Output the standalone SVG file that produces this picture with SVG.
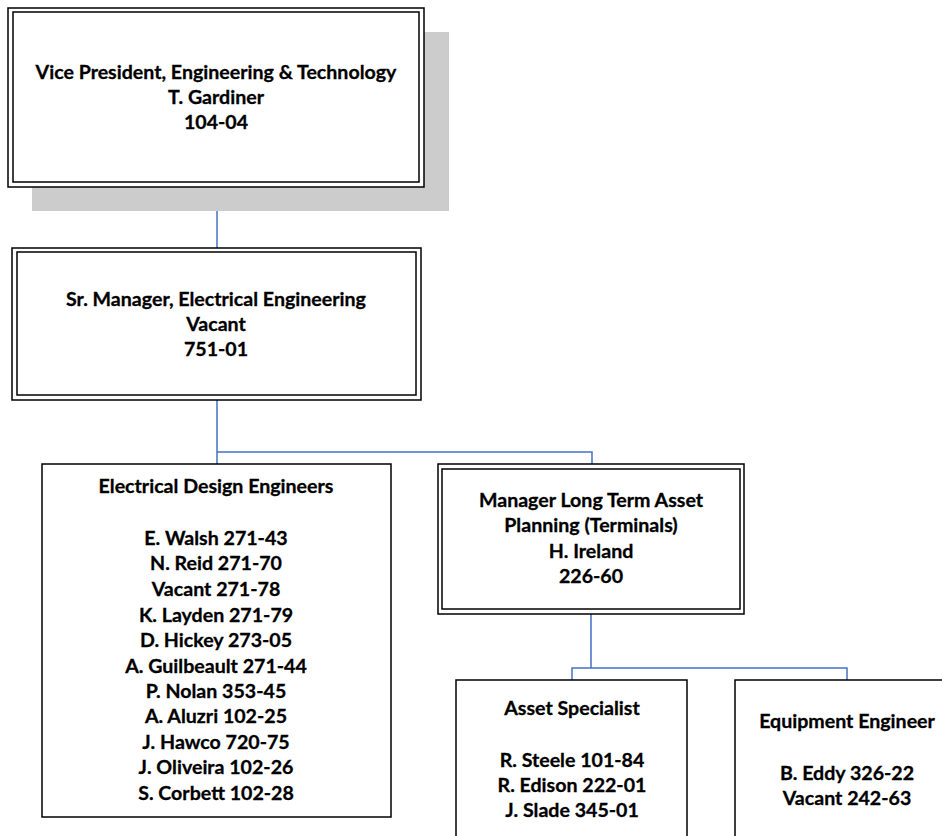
<svg xmlns="http://www.w3.org/2000/svg" width="942" height="836" viewBox="0 0 942 836">
<style>
.b{fill:#fff;stroke:#000;stroke-width:1.5}
.i{fill:none;stroke:#000;stroke-width:1.5}
.t{font-family:Lato,"Liberation Sans",sans-serif;font-weight:bold;font-size:19.6px;fill:#000;stroke:#000;stroke-width:0.3;text-anchor:middle}
.c{fill:none;stroke:#4472C4;stroke-width:1.5}
</style>
<rect width="942" height="836" fill="#fff"/>
<g id="connectors">
<path class="c" d="M217 187V249"/>
<path class="c" d="M217 400V452H592V464M217 452V464"/>
<path class="c" d="M591 614V668M572 680V668H847V680"/>
</g>
<g id="vp">
<rect x="32" y="32" width="417" height="179" fill="#cccccc"/>
<rect class="b" x="8" y="8" width="416" height="179"/>
<rect class="i" x="13" y="12" width="406" height="170"/>
<text class="t" x="216" y="79">Vice President, Engineering &amp; Technology</text>
<text class="t" x="216" y="104">T. Gardiner</text>
<text class="t" x="216" y="129">104-04</text>
</g>
<g id="srmgr">
<rect class="b" x="12" y="248" width="409" height="152"/>
<rect class="i" x="17" y="252" width="399" height="143"/>
<text class="t" x="216" y="306">Sr. Manager, Electrical Engineering</text>
<text class="t" x="216" y="331">Vacant</text>
<text class="t" x="216" y="356">751-01</text>
</g>
<g id="ede">
<rect class="b" x="42" y="464" width="349" height="353"/>
<text class="t" x="216" y="493">Electrical Design Engineers</text>
<text class="t" x="216" y="545">E. Walsh 271-43</text>
<text class="t" x="216" y="570">N. Reid 271-70</text>
<text class="t" x="216" y="596">Vacant 271-78</text>
<text class="t" x="216" y="622">K. Layden 271-79</text>
<text class="t" x="216" y="647">D. Hickey 273-05</text>
<text class="t" x="216" y="673">A. Guilbeault 271-44</text>
<text class="t" x="216" y="698">P. Nolan 353-45</text>
<text class="t" x="216" y="723">A. Aluzri 102-25</text>
<text class="t" x="216" y="749">J. Hawco 720-75</text>
<text class="t" x="216" y="774">J. Oliveira 102-26</text>
<text class="t" x="216" y="800">S. Corbett 102-28</text>
</g>
<g id="ltap">
<rect class="b" x="438" y="464" width="306" height="150"/>
<rect class="i" x="442" y="469" width="298" height="140"/>
<text class="t" x="591" y="507">Manager Long Term Asset</text>
<text class="t" x="591" y="532">Planning (Terminals)</text>
<text class="t" x="591" y="558">H. Ireland</text>
<text class="t" x="591" y="583">226-60</text>
</g>
<g id="asset">
<rect class="b" x="456" y="680" width="231" height="170"/>
<text class="t" x="572" y="715">Asset Specialist</text>
<text class="t" x="572" y="767">R. Steele 101-84</text>
<text class="t" x="572" y="792">R. Edison 222-01</text>
<text class="t" x="572" y="817">J. Slade 345-01</text>
</g>
<g id="equip">
<rect class="b" x="735" y="680" width="230" height="170"/>
<text class="t" x="847" y="728">Equipment Engineer</text>
<text class="t" x="847" y="780">B. Eddy 326-22</text>
<text class="t" x="847" y="805">Vacant 242-63</text>
</g>
</svg>
